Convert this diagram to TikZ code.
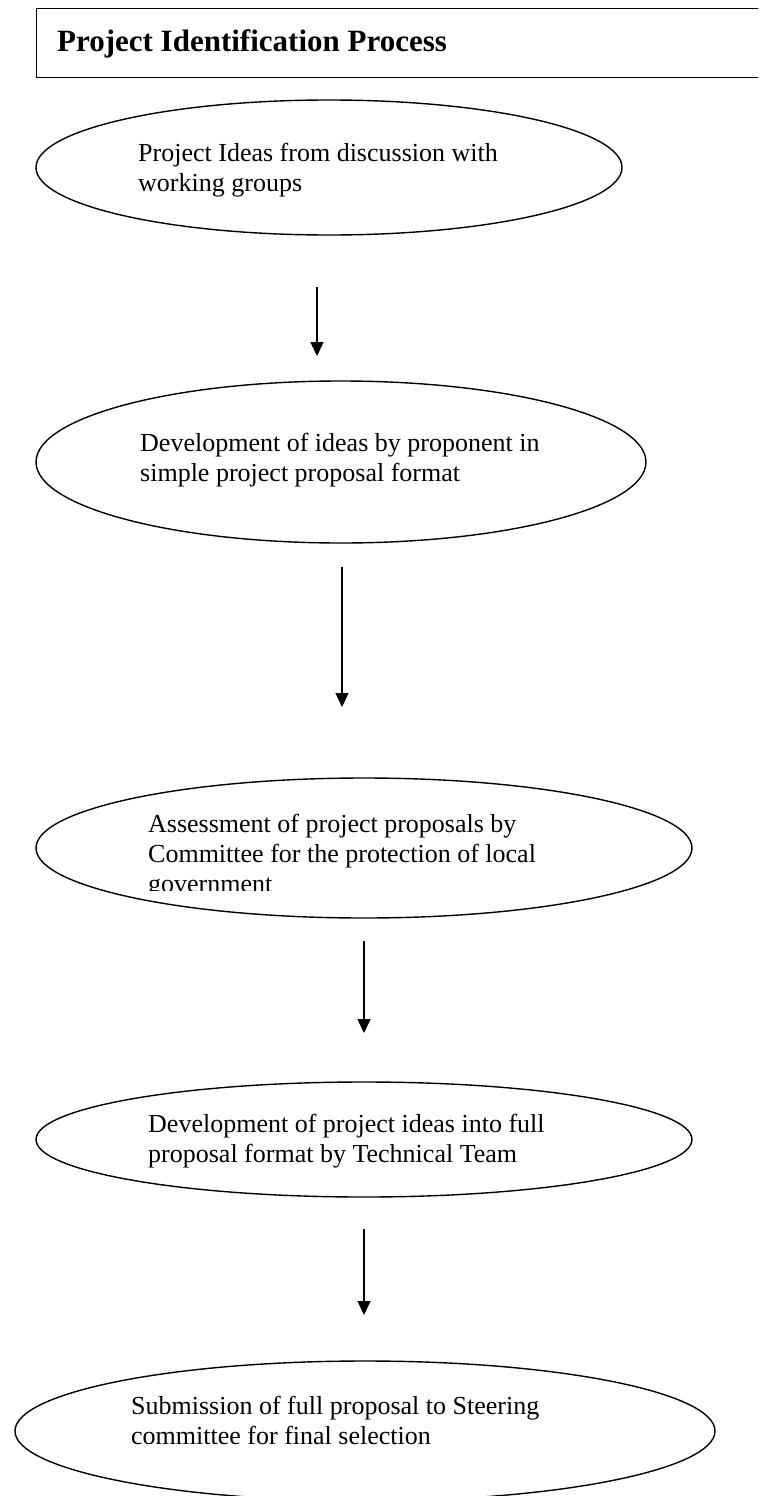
\documentclass[tikz,border=0pt]{standalone}
\usepackage{fontspec}
\setmainfont{Liberation Serif}
\usetikzlibrary{shapes.geometric,arrows.meta}
\tikzset{
  oval/.style={draw, line width=1.4pt, ellipse, inner sep=0pt},
  txt/.style={anchor=base west, inner sep=0pt, font=\fontsize{26}{30}\selectfont},
  flow/.style={line width=1.4pt, -{Triangle[width=13pt,length=14pt]}},
}
\begin{document}
\begin{tikzpicture}[x=1pt,y=-1pt]
\clip (0,0) rectangle (758,1496);
\useasboundingbox (0,0) rectangle (758,1496);
% title box
\node[draw, line width=1.4pt, anchor=north west, minimum width=760pt, minimum height=69pt, inner sep=0pt] (tbox) at (36,8) {};
\node[anchor=base west, inner sep=0pt, font=\fontsize{31}{36}\selectfont\bfseries] (title) at (57,52) {Project Identification Process};
% ellipses
\node[oval, minimum width=586pt, minimum height=135pt] (e1) at (329,167.5) {};
\node[oval, minimum width=610pt, minimum height=162pt] (e2) at (341,462) {};
\node[oval, minimum width=656pt, minimum height=140pt] (e3) at (364,848) {};
\node[oval, minimum width=656pt, minimum height=115pt] (e4) at (364,1139.5) {};
\node[oval, minimum width=700pt, minimum height=140pt] (e5) at (365,1431) {};
% texts
\node[txt] (t1a) at (138,161) {Project Ideas from discussion with};
\node[txt] (t1b) at (138,191) {working groups};
\node[txt] (t2a) at (140,451) {Development of ideas by proponent in};
\node[txt] (t2b) at (140,481) {simple project proposal format};
\begin{scope}
\clip (0,0) rectangle (758,890);
\node[txt] (t3a) at (148,832) {Assessment of project proposals by};
\node[txt] (t3b) at (148,862) {Committee for the protection of local};
\node[txt] (t3c) at (148,892) {government};
\end{scope}
\node[txt] (t4a) at (148,1132) {Development of project ideas into full};
\node[txt] (t4b) at (148,1162) {proposal format by Technical Team};
\node[txt] (t5a) at (131,1414) {Submission of full proposal to Steering};
\node[txt] (t5b) at (131,1444) {committee for final selection};
% arrows
\coordinate (a1s) at (317,287); \coordinate (a1e) at (317,356);
\coordinate (a2s) at (342,567); \coordinate (a2e) at (342,707);
\coordinate (a3s) at (364,941); \coordinate (a3e) at (364,1033);
\coordinate (a4s) at (364,1229); \coordinate (a4e) at (364,1315);
\draw[flow] (a1s) -- (a1e);
\draw[flow] (a2s) -- (a2e);
\draw[flow] (a3s) -- (a3e);
\draw[flow] (a4s) -- (a4e);
\end{tikzpicture}
\end{document}
